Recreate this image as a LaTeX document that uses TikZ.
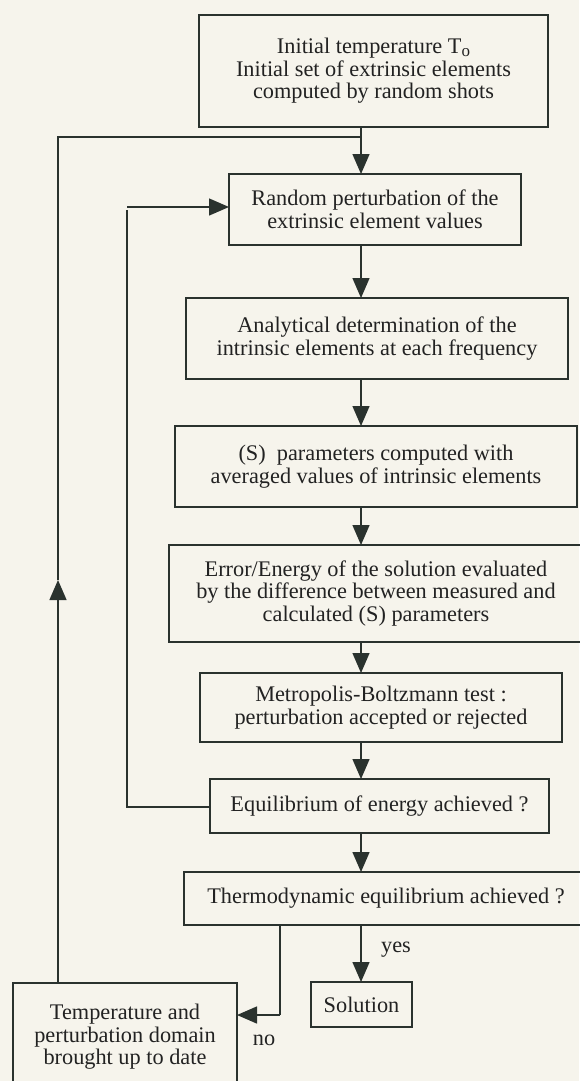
\documentclass[tikz,border=0pt]{standalone}
\usepackage{fontspec}
\setmainfont{Liberation Serif}
\usetikzlibrary{arrows.meta,calc}
\definecolor{bgc}{HTML}{F6F4EC}
\definecolor{ink}{HTML}{2A322E}
\definecolor{txt}{HTML}{222222}
\begin{document}
\begin{tikzpicture}[x=1pt,y=-1pt,
  box/.style={draw=ink, line width=1.4pt, rectangle, inner sep=0pt, outer sep=0pt,
    align=center, text=txt, font=\fontsize{22.3}{22.5}\selectfont},
  line/.style={draw=ink, line width=1.4pt},
  arr/.style={line, -{Triangle[length=20pt,width=17pt]}},
  lbl/.style={text=txt, inner sep=0pt, font=\fontsize{22.3}{22.5}\selectfont}]
\fill[bgc] (0,0) rectangle (579,1081);
\useasboundingbox (0,0) rectangle (579,1081);

\node[box, minimum width=349pt, minimum height=112pt] (b1) at (373.5,71)
  {Initial temperature T\raisebox{-0.25ex}{\fontsize{17}{17}\selectfont o}\\Initial set of extrinsic elements\\computed by random shots};
\node[box, minimum width=292pt, minimum height=71pt] (b2) at (375,209.5)
  {Random perturbation of the\\extrinsic element values};
\node[box, minimum width=382pt, minimum height=81pt] (b3) at (377,338.5)
  {Analytical determination of the\\intrinsic elements at each frequency};
\node[box, minimum width=402pt, minimum height=81pt] (b4) at (376,466.5)
  {(S)\ \ parameters computed with\\averaged values of intrinsic elements};
\node[box, minimum width=414pt, minimum height=97pt] (b5) at (376,593.5)
  {Error/Energy of the solution evaluated\\by the difference between measured and\\calculated (S) parameters};
\node[box, minimum width=362pt, minimum height=69pt] (b6) at (381,707.5)
  {Metropolis-Boltzmann test :\\perturbation accepted or rejected};
\node[box, minimum width=339pt, minimum height=54pt] (b7) at (379.5,806)
  {Equilibrium of energy achieved ?};
\node[box, minimum width=404pt, minimum height=53pt] (b8) at (386,898.5)
  {Thermodynamic equilibrium achieved ?};
\node[box, minimum width=224pt, minimum height=108pt] (b9) at (125,1037)
  {Temperature and\\perturbation domain\\brought up to date};
\node[box, minimum width=101pt, minimum height=45pt] (sol) at (361.5,1004.5)
  {Solution};

\node[lbl] (yes) at (396,950) {yes};
\node[lbl] (no) at (264,1040) {no};

\coordinate (sp) at (361,137);
\coordinate (ol) at (58,137);
\coordinate (mid) at (58,580);
\coordinate (il) at (127,807);
\coordinate (nb) at (280,1015);

% main spine
\draw[arr] (b1.south -| sp) -- (b2.north -| sp);
\draw[arr] (b2.south -| sp) -- (b3.north -| sp);
\draw[arr] (b3.south -| sp) -- (b4.north -| sp);
\draw[arr] (b4.south -| sp) -- (b5.north -| sp);
\draw[arr] (b5.south -| sp) -- (b6.north -| sp);
\draw[arr] (b6.south -| sp) -- (b7.north -| sp);
\draw[arr] (b7.south -| sp) -- (b8.north -| sp);
\draw[arr] (b8.south -| sp) -- (sol.north -| sp);

% inner loop
\draw[line] (b7.west |- il) -- (il) -- (il |- b2.west);
\draw[arr] (il |- 0,207) -- (b2.west |- 0,207);

% outer loop
\draw[arr] (b9.north -| ol) -- (mid);
\draw[line] (mid) -- (ol) -- (sp);

% no branch
\draw[line] (b8.south -| nb) -- (nb);
\draw[arr] (nb) -- (b9.east |- nb);
\end{tikzpicture}
\end{document}
